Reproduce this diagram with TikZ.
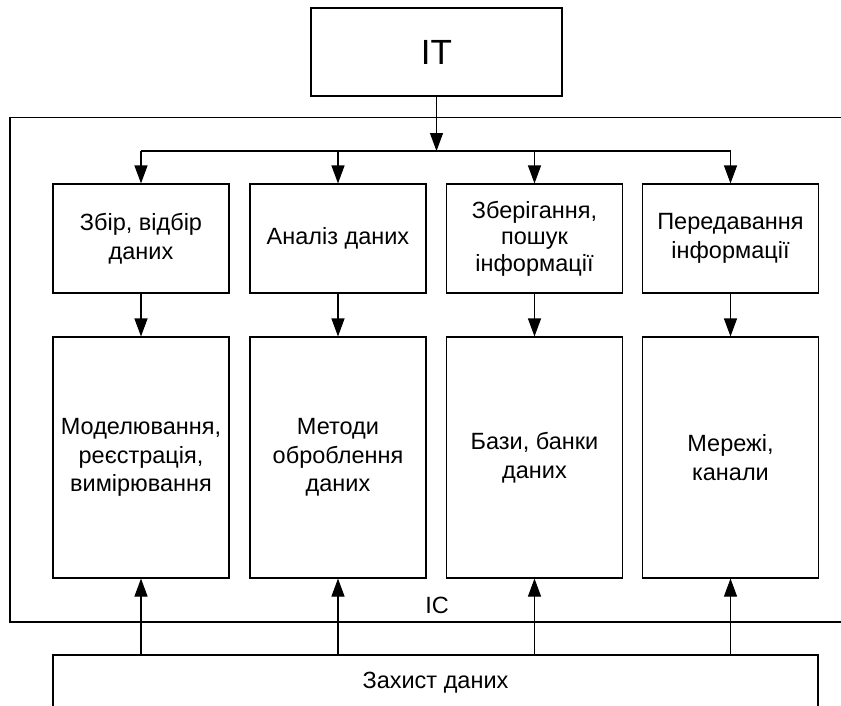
\documentclass[tikz,border=0pt]{standalone}
\usepackage{fontspec}
\setmainfont{Liberation Sans}
\usetikzlibrary{arrows.meta}

\begin{document}
\begin{tikzpicture}[x=1pt,y=-1pt,line width=1.1pt]
				\tikzstyle{every node}=[font=\fontsize{23.5}{28.5}\selectfont,align=center,inner sep=0pt]
				\tikzstyle{box}=[draw,rectangle,minimum width=176pt]
				\tikzstyle{top box}=[box,minimum height=109pt]
				\tikzstyle{low box}=[box,minimum height=241pt]
				\tikzstyle{arr}=[-{Triangle[length=18pt,width=13pt]}]
				\useasboundingbox (0,0) rectangle (841,705);
				\node[draw,minimum width=251pt,minimum height=88pt,font=\fontsize{35}{40}\selectfont] (it) at (436.5,52) {IT};
				\node[draw,minimum width=880pt,minimum height=504.5pt] (ic) at (450,369.75) {};
				\node (iclabel) at (437,605) {IC};
				\coordinate (fork) at (436.5,151);
				\node[top box] (sbir) at (141,238.5) {Збір, відбір\\даних};
				\node[top box] (analiz) at (338,238.5) {Аналіз даних};
				\node[top box,font=\fontsize{23.5}{26.5}\selectfont] (zberig) at (534.5,238.5) {Зберігання,\\пошук\\інформації};
				\node[top box] (pered) at (730.5,238.5) {Передавання\\інформації};
				\node[low box] (model) at (141,457.5) {Моделювання,\\реєстрація,\\вимірювання};
				\node[low box] (metody) at (338,457.5) {Методи\\оброблення\\даних};
				\node[low box] (bazy) at (534.5,457.5) {Бази, банки\\даних};
				\node[low box] (merezhi) at (730.5,457.5) {Мережі,\\канали};
				\node[draw,minimum width=765pt,minimum height=55pt] (zahyst) at (435.5,682.5) {Захист даних};
				\draw[arr] (it) -- (fork);
				\draw (sbir.north |- fork) -- (pered.north |- fork);
				\draw[arr] (sbir.north |- fork) -- (sbir);
				\draw[arr] (analiz.north |- fork) -- (analiz);
				\draw[arr] (zberig.north |- fork) -- (zberig);
				\draw[arr] (pered.north |- fork) -- (pered);
				\draw[arr] (sbir) -- (model);
				\draw[arr] (analiz) -- (metody);
				\draw[arr] (zberig) -- (bazy);
				\draw[arr] (pered) -- (merezhi);
				\draw[arr] (model.south |- zahyst.north) -- (model);
				\draw[arr] (metody.south |- zahyst.north) -- (metody);
				\draw[arr] (bazy.south |- zahyst.north) -- (bazy);
				\draw[arr] (merezhi.south |- zahyst.north) -- (merezhi);
\end{tikzpicture}
\end{document}
